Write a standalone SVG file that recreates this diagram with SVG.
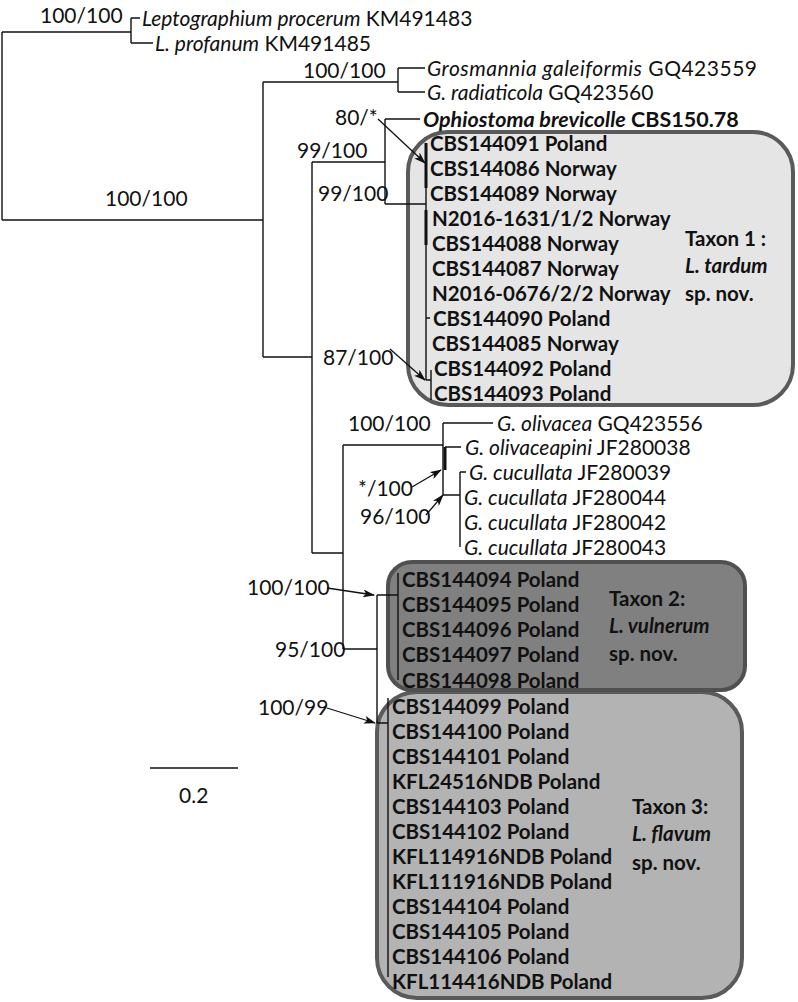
<svg xmlns="http://www.w3.org/2000/svg" width="798" height="1002" viewBox="0 0 798 1002">
<defs>
<style>
.t{font-family:Lato,"Liberation Sans",sans-serif;font-size:21px;fill:#111}
.b{font-weight:bold;font-size:20.5px}
.i{font-style:italic}
.ln{fill:none;stroke:#111;stroke-width:1.4}
.th{fill:none;stroke:#111;stroke-width:3}
.ar{fill:none;stroke:#111;stroke-width:1.3;marker-end:url(#ah)}
.box{stroke-width:4}
</style>
<marker id="ah" viewBox="0 0 12 8" refX="11" refY="4" markerWidth="12" markerHeight="8" markerUnits="userSpaceOnUse" orient="auto">
<path d="M0,0 L12,4 L0,8 L3,4 z" fill="#111"/>
</marker>
</defs>
<rect width="798" height="1002" fill="#fff"/>

<g id="taxon1-box"><rect class="box" x="408" y="132" width="385" height="273" rx="40" fill="#e5e5e5" stroke="#5a5a5a"/></g>
<g id="taxon3-box"><rect class="box" x="377" y="692" width="365" height="306" rx="40" fill="#b3b3b3" stroke="#5a5a5a"/></g>
<g id="taxon2-box"><rect class="box" x="388" y="562" width="357" height="128" rx="24" fill="#808080" stroke="#505050"/></g>

<g id="connectors">
<path class="ln" d="M2,32 V220 M2,32 H131 M131,18 V43 M131,18 H140 M131,43 H153 M2,220 H263 M263,82 V357 M263,82 H398 M398,68 V92 M398,68 H425 M398,92 H425 M263,357 H312 M312,162 V553 M312,162 H385 M385,119 V204 M385,119 H420 M385,204 H426 M426,143 V380 M426,318 H430 M426,380 H431 M431,370 V400 M312,553 H343 M343,445 V649 M343,445 H443 M443,423 V495 M443,423 H493 M445,447 H461 M443,495 H460 M460,472 V547 M460,472 H466 M343,649 H377 M377,595 V723 M377,595 H398 M398,573 V680 M377,723 H388 M388,698 V977 M150,768 H238"/>
<path class="th" d="M426,143 V188 M426,210 V245 M445,447 V470"/>
<path class="ar" d="M378,119 L425,163"/>
<path class="ar" d="M390,349 L425,380"/>
<path class="ar" d="M412,487 L441,470"/>
<path class="ar" d="M426,515 L443,495"/>
<path class="ar" d="M327,588 L374,595"/>
<path class="ar" d="M327,708 L375,723"/>
</g>

<g id="support">
<text class="t" x="40" y="23">100/100</text>
<text class="t" x="105" y="206">100/100</text>
<text class="t" x="303" y="78">100/100</text>
<text class="t" x="335" y="125">80/*</text>
<text class="t" x="297" y="158">99/100</text>
<text class="t" x="318" y="201">99/100</text>
<text class="t" x="323" y="365">87/100</text>
<text class="t" x="348" y="431">100/100</text>
<text class="t" x="358" y="496">*/100</text>
<text class="t" x="360" y="524">96/100</text>
<text class="t" x="247" y="595">100/100</text>
<text class="t" x="275" y="657">95/100</text>
<text class="t" x="258" y="715">100/99</text>
<text class="t" x="179" y="803">0.2</text>
</g>

<g id="outgroups">
<g id="n-lproc"><text class="t" x="142" y="26"><tspan class="i">Leptographium procerum</tspan> KM491483</text></g>
<g id="n-lprof"><text class="t" x="155" y="51"><tspan class="i">L. profanum</tspan> KM491485</text></g>
<g id="n-ggal"><text class="t" x="427" y="76" textLength="330" lengthAdjust="spacing"><tspan class="i">Grosmannia galeiformis</tspan> GQ423559</text></g>
<g id="n-grad"><text class="t" x="427" y="100"><tspan class="i">G. radiaticola</tspan> GQ423560</text></g>
<g id="n-obrev"><text class="t b" x="423" y="127" style="font-size:21.5px"><tspan class="i">Ophiostoma brevicolle</tspan> CBS150.78</text></g>
<g id="n-goliv"><text class="t" x="497" y="431"><tspan class="i">G. olivacea</tspan> GQ423556</text></g>
<g id="n-golivp"><text class="t" x="465" y="455"><tspan class="i">G. olivaceapini</tspan> JF280038</text></g>
<g id="n-gc39"><text class="t" x="469" y="480"><tspan class="i">G. cucullata</tspan> JF280039</text></g>
<g id="n-gc44"><text class="t" x="464" y="505"><tspan class="i">G. cucullata</tspan> JF280044</text></g>
<g id="n-gc42"><text class="t" x="464" y="530"><tspan class="i">G. cucullata</tspan> JF280042</text></g>
<g id="n-gc43"><text class="t" x="464" y="555"><tspan class="i">G. cucullata</tspan> JF280043</text></g>
</g>

<g id="taxon1">
<g id="n-144091"><text class="t b" x="430" y="151">CBS144091 Poland</text></g>
<g id="n-144086"><text class="t b" x="430" y="176">CBS144086 Norway</text></g>
<g id="n-144089"><text class="t b" x="430" y="201">CBS144089 Norway</text></g>
<g id="n-1631"><text class="t b" x="432" y="226">N2016-1631/1/2 Norway</text></g>
<g id="n-144088"><text class="t b" x="432" y="251">CBS144088 Norway</text></g>
<g id="n-144087"><text class="t b" x="432" y="276">CBS144087 Norway</text></g>
<g id="n-0676"><text class="t b" x="432" y="301">N2016-0676/2/2 Norway</text></g>
<g id="n-144090"><text class="t b" x="433" y="326">CBS144090 Poland</text></g>
<g id="n-144085"><text class="t b" x="432" y="351">CBS144085 Norway</text></g>
<g id="n-144092"><text class="t b" x="434" y="376">CBS144092 Poland</text></g>
<g id="n-144093"><text class="t b" x="434" y="401">CBS144093 Poland</text></g>
<g id="taxon1-label"><text class="t b" x="685" y="246">Taxon 1 :</text><text class="t b i" x="685" y="273">L. tardum</text><text class="t b" x="685" y="301">sp. nov.</text></g>
</g>

<g id="taxon2">
<g id="n-144094"><text class="t b" x="402" y="587">CBS144094 Poland</text></g>
<g id="n-144095"><text class="t b" x="402" y="612">CBS144095 Poland</text></g>
<g id="n-144096"><text class="t b" x="402" y="637">CBS144096 Poland</text></g>
<g id="n-144097"><text class="t b" x="402" y="662">CBS144097 Poland</text></g>
<g id="n-144098"><text class="t b" x="402" y="688">CBS144098 Poland</text></g>
<g id="taxon2-label"><text class="t b" x="609" y="606">Taxon 2:</text><text class="t b i" x="609" y="633">L. vulnerum</text><text class="t b" x="609" y="661">sp. nov.</text></g>
</g>

<g id="taxon3">
<g id="n-144099"><text class="t b" x="392" y="714">CBS144099 Poland</text></g>
<g id="n-144100"><text class="t b" x="392" y="739">CBS144100 Poland</text></g>
<g id="n-144101"><text class="t b" x="392" y="764">CBS144101 Poland</text></g>
<g id="n-24516"><text class="t b" x="392" y="789">KFL24516NDB Poland</text></g>
<g id="n-144103"><text class="t b" x="392" y="814">CBS144103 Poland</text></g>
<g id="n-144102"><text class="t b" x="392" y="839">CBS144102 Poland</text></g>
<g id="n-114916"><text class="t b" x="392" y="864">KFL114916NDB Poland</text></g>
<g id="n-111916"><text class="t b" x="392" y="889">KFL111916NDB Poland</text></g>
<g id="n-144104"><text class="t b" x="392" y="914">CBS144104 Poland</text></g>
<g id="n-144105"><text class="t b" x="392" y="939">CBS144105 Poland</text></g>
<g id="n-144106"><text class="t b" x="392" y="964">CBS144106 Poland</text></g>
<g id="n-114416"><text class="t b" x="392" y="989">KFL114416NDB Poland</text></g>
<g id="taxon3-label"><text class="t b" x="632" y="814">Taxon 3:</text><text class="t b i" x="632" y="841">L. flavum</text><text class="t b" x="632" y="870">sp. nov.</text></g>
</g>
</svg>
